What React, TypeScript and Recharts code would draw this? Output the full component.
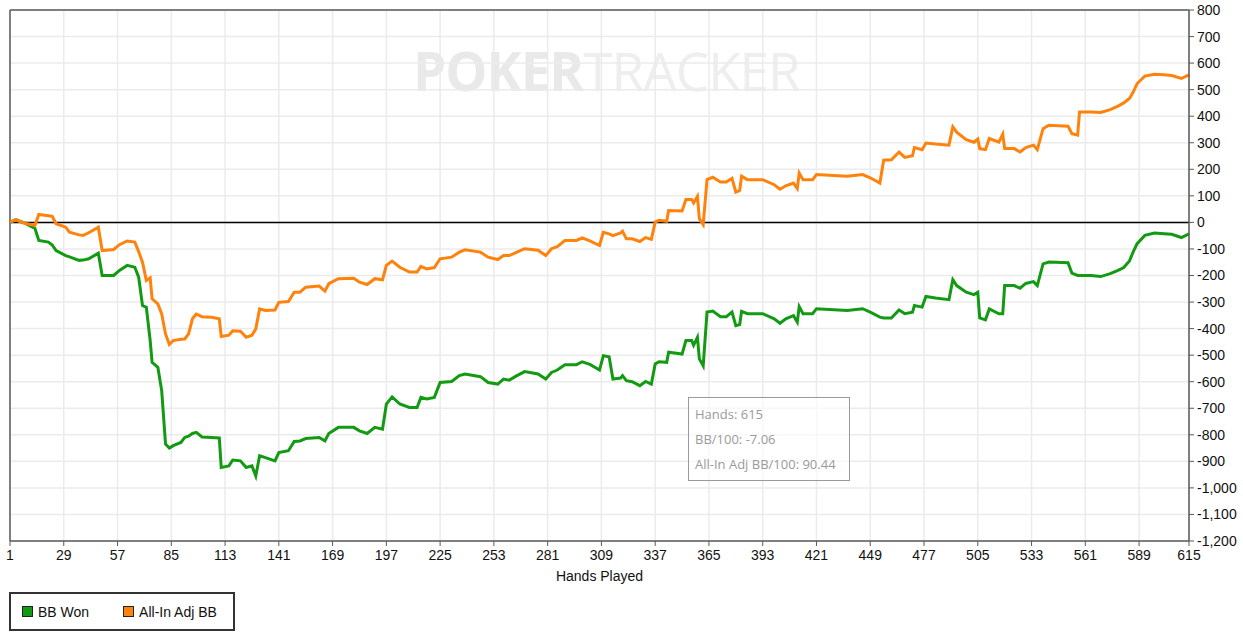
import React from 'react';
import { LineChart, Line, XAxis, YAxis, CartesianGrid, ReferenceLine } from 'recharts';

const hands = [
  1, 4, 9, 14, 16, 21, 23, 25, 30, 32, 37, 39, 42, 47, 49, 55, 58, 62, 66, 68,
  70, 72, 74, 75, 78, 80, 82, 84, 86, 90, 92, 94, 96, 98, 101, 106, 110, 111, 115, 117,
  121, 124, 127, 129, 131, 134, 139, 141, 146, 149, 152, 155, 162, 165, 167, 172, 180, 183, 187, 191,
  195, 197, 200, 204, 209, 213, 215, 218, 222, 225, 231, 235, 238, 246, 250, 255, 258, 261, 265, 269,
  276, 280, 283, 286, 290, 296, 299, 303, 308, 310, 313, 315, 319, 320, 322, 325, 329, 332, 335, 337,
  339, 343, 344, 351, 353, 356, 357, 359, 360, 362, 364, 367, 371, 374, 377, 379, 381, 382, 385, 393,
  399, 402, 405, 409, 411, 412, 414, 419, 421, 430, 437, 445, 449, 454, 456, 460, 464, 467, 471, 472,
  476, 478, 483, 490, 492, 494, 499, 503, 505, 506, 509, 511, 516, 518, 519, 524, 527, 530, 534, 536,
  539, 542, 552, 554, 557, 558, 564, 569, 574, 578, 581, 584, 586, 588, 592, 597, 602, 606, 611, 615,
];

const bbWon = [
  0, 10, -4, -23, -68, -74, -85, -106, -125, -130, -143, -142, -137, -116, -200, -200, -181, -162, -169, -206,
  -313, -320, -445, -527, -546, -634, -835, -850, -841, -829, -810, -805, -795, -791, -808, -810, -812, -923, -917, -895,
  -898, -923, -917, -955, -879, -886, -898, -867, -860, -825, -823, -814, -810, -823, -795, -772, -772, -785, -795, -772,
  -779, -684, -657, -684, -697, -697, -659, -665, -659, -603, -599, -577, -571, -581, -603, -609, -590, -594, -577, -562,
  -571, -590, -565, -556, -536, -536, -525, -535, -556, -502, -506, -590, -586, -577, -596, -600, -615, -599, -609, -533,
  -525, -527, -489, -496, -445, -445, -463, -433, -514, -540, -338, -334, -355, -355, -338, -389, -385, -335, -344, -344,
  -363, -380, -363, -351, -376, -317, -344, -344, -325, -329, -332, -325, -338, -357, -360, -360, -330, -344, -338, -313,
  -319, -279, -285, -291, -216, -238, -263, -272, -263, -360, -367, -326, -344, -344, -238, -238, -248, -230, -223, -238,
  -156, -149, -152, -191, -200, -200, -200, -204, -193, -181, -170, -145, -110, -80, -49, -40, -43, -45, -57, -43,
];

const allInAdjBB = [
  0, 10, -4, -11, 30, 25, 23, -5, -18, -37, -47, -49, -39, -18, -106, -102, -84, -70, -74, -110,
  -150, -219, -209, -288, -307, -345, -420, -460, -445, -440, -439, -420, -363, -345, -355, -357, -363, -430, -425, -408,
  -410, -433, -425, -401, -326, -332, -330, -301, -298, -263, -263, -244, -240, -259, -231, -212, -210, -225, -234, -212,
  -216, -162, -146, -169, -187, -187, -166, -175, -170, -137, -131, -112, -103, -112, -131, -140, -125, -125, -112, -99,
  -105, -125, -99, -91, -68, -68, -58, -70, -87, -37, -43, -50, -40, -33, -62, -62, -72, -57, -64, 1,
  8, 4, 45, 43, 86, 86, 73, 98, 14, -8, 161, 170, 152, 152, 166, 114, 120, 174, 161, 161,
  142, 125, 138, 148, 128, 186, 161, 161, 180, 177, 174, 180, 168, 148, 234, 236, 265, 245, 251, 282,
  274, 299, 295, 291, 360, 340, 312, 302, 314, 278, 274, 316, 302, 332, 278, 278, 265, 282, 291, 274,
  353, 366, 362, 334, 329, 416, 416, 414, 425, 438, 450, 467, 492, 523, 551, 558, 556, 553, 542, 556,
];

const handTicks = [1, 29, 57, 85, 113, 141, 169, 197, 225, 253, 281, 309, 337, 365, 393, 421, 449, 477, 505, 533, 561, 589, 615];
const valueTicks = [800, 700, 600, 500, 400, 300, 200, 100, 0, -100, -200, -300, -400, -500, -600, -700, -800, -900, -1000, -1100, -1200];

const summaryLines = ['Hands: 615', 'BB/100: -7.06', 'All-In Adj BB/100: 90.44'];

const GREEN = '#139a13';
const ORANGE = '#ff820d';
const AXIS = '#5a5a5a';

const series = [
  { key: 'bbWon', name: 'BB Won', color: GREEN },
  { key: 'allInAdj', name: 'All-In Adj BB', color: ORANGE },
];

const data = hands.map((hand, i) => ({ hand, bbWon: bbWon[i], allInAdj: allInAdjBB[i] }));

const tickStyle = { fill: '#111', fontSize: 14, fontFamily: '"Liberation Sans", Arial, sans-serif' };

export default function App() {
  return (
    <div style={{ position: 'absolute', left: 0, top: 0, width: 1243, height: 634, background: '#fff', fontFamily: '"Liberation Sans", Arial, sans-serif' }}>
      {/* watermark sits behind the transparent svg */}
      <div style={{ position: 'absolute', left: 413, top: 38, fontFamily: '"Open Sans", sans-serif', fontSize: 53, lineHeight: '66px', letterSpacing: -1, whiteSpace: 'nowrap' }}>
        <span style={{ fontWeight: 700, color: '#e9e9e9' }}>POKER</span>
        <span style={{ fontWeight: 400, color: '#eeeeee' }}>TRACKER</span>
      </div>

      <div style={{ position: 'absolute', left: 0, top: 0 }}>
        <LineChart width={1243} height={590} data={data} margin={{ top: 10, right: 0, bottom: 19, left: 10 }}>
          <CartesianGrid stroke="#ebebeb" strokeWidth={1.5} />
          <XAxis
            dataKey="hand"
            type="number"
            domain={[1, 615]}
            ticks={handTicks}
            interval={0}
            height={30}
            tick={tickStyle}
            tickSize={5}
            tickMargin={4}
            axisLine={{ stroke: AXIS, strokeWidth: 1.5 }}
            tickLine={{ stroke: AXIS }}
          />
          <YAxis
            orientation="right"
            type="number"
            domain={[-1200, 800]}
            ticks={valueTicks}
            interval={0}
            width={54}
            tick={tickStyle}
            tickSize={5}
            tickMargin={3}
            tickFormatter={(v: number) => v.toLocaleString('en-US')}
            axisLine={{ stroke: AXIS, strokeWidth: 1.5 }}
            tickLine={{ stroke: AXIS }}
          />
          <ReferenceLine x={1} stroke={AXIS} strokeWidth={1.5} />
          <ReferenceLine y={800} stroke={AXIS} strokeWidth={1.5} />
          <ReferenceLine y={0} stroke="#000" strokeWidth={1.5} />
          {series.map((s) => (
            <Line
              key={s.key}
              type="linear"
              dataKey={s.key}
              name={s.name}
              stroke={s.color}
              strokeWidth={3}
              dot={false}
              isAnimationActive={false}
            />
          ))}
        </LineChart>
      </div>

      <div style={{ position: 'absolute', left: 0, width: 1199, top: 568, textAlign: 'center', fontSize: 14, color: '#111' }}>Hands Played</div>

      {/* static summary box */}
      <div style={{ position: 'absolute', left: 688, top: 397, width: 162, height: 84, border: '1px solid #9a9a9a', background: 'rgba(255,255,255,0.6)', fontFamily: '"Open Sans", sans-serif', fontSize: 13, color: '#9a9a9a', boxSizing: 'border-box', padding: '4px 0 0 6px', lineHeight: '25px' }}>
        {summaryLines.map((line) => (
          <div key={line}>{line}</div>
        ))}
      </div>

      {/* legend */}
      <div style={{ position: 'absolute', left: 9, top: 592, width: 226, height: 39, border: '2px solid #333', boxSizing: 'border-box', display: 'flex', alignItems: 'center', paddingLeft: 11, fontSize: 14, color: '#111' }}>
        {series.map((s, i) => (
          <div key={s.key} style={{ display: 'flex', alignItems: 'center', marginRight: i === 0 ? 34 : 0 }}>
            <span style={{ display: 'inline-block', width: 9, height: 9, background: s.color, border: '1px solid #222', marginRight: 5 }} />
            <span>{s.name}</span>
          </div>
        ))}
      </div>
    </div>
  );
}
